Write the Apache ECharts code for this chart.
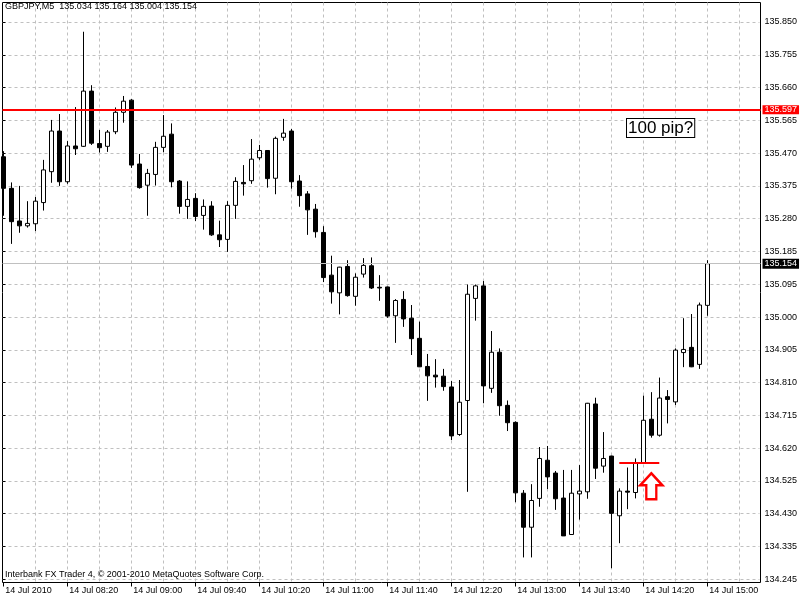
<!DOCTYPE html>
<html>
<head>
<meta charset="utf-8">
<script src="https://cdn.jsdelivr.net/npm/echarts@6/dist/echarts.min.js"></script>
<style>
  html, body { margin: 0; padding: 0; background: #fff; }
  #chart { width: 800px; height: 600px; }
</style>
</head>
<body>
<div id="chart"></div>
<script>
// GBPJPY M5, 14 Jul 2010 -- bars 07:40 .. 15:00, then empty slots (chart shift)
const times = [
  '07:40', '07:45', '07:50', '07:55',
  '08:00', '08:05', '08:10', '08:15', '08:20', '08:25', '08:30', '08:35', '08:40', '08:45', '08:50', '08:55',
  '09:00', '09:05', '09:10', '09:15', '09:20', '09:25', '09:30', '09:35', '09:40', '09:45', '09:50', '09:55',
  '10:00', '10:05', '10:10', '10:15', '10:20', '10:25', '10:30', '10:35', '10:40', '10:45', '10:50', '10:55',
  '11:00', '11:05', '11:10', '11:15', '11:20', '11:25', '11:30', '11:35', '11:40', '11:45', '11:50', '11:55',
  '12:00', '12:05', '12:10', '12:15', '12:20', '12:25', '12:30', '12:35', '12:40', '12:45', '12:50', '12:55',
  '13:00', '13:05', '13:10', '13:15', '13:20', '13:25', '13:30', '13:35', '13:40', '13:45', '13:50', '13:55',
  '14:00', '14:05', '14:10', '14:15', '14:20', '14:25', '14:30', '14:35', '14:40', '14:45', '14:50', '14:55',
  '15:00', '15:05', '15:10', '15:15', '15:20', '15:25', '15:30'
]

const opens = [
  135.462, 135.371, 135.277, 135.263, 135.269, 135.330, 135.419, 135.536, 135.390, 135.493,
  135.492, 135.651, 135.500, 135.492, 135.534, 135.590, 135.625, 135.441, 135.380, 135.411,
  135.489, 135.527, 135.392, 135.319, 135.342, 135.293, 135.320, 135.237, 135.224, 135.322,
  135.388, 135.393, 135.459, 135.480, 135.400, 135.518, 135.536, 135.392, 135.355, 135.311,
  135.244, 135.121, 135.070, 135.146, 135.060, 135.124, 135.148, 135.086, 135.087, 135.004,
  135.051, 134.997, 134.939, 134.858, 134.833, 134.830, 134.799, 134.662, 134.760, 135.054,
  135.090, 134.795, 134.899, 134.746, 134.697, 134.493, 134.395, 134.478, 134.588, 134.551,
  134.479, 134.374, 134.491, 134.497, 134.750, 134.571, 134.600, 134.428, 134.499, 134.495,
  134.581, 134.706, 134.660, 134.771, 134.756, 134.898, 134.913, 134.864, 135.034
]
const closes = [
  135.371, 135.275, 135.263, 135.270, 135.334, 135.424, 135.536, 135.390, 135.493, 135.485,
  135.651, 135.501, 135.488, 135.533, 135.590, 135.622, 135.438, 135.373, 135.414, 135.489,
  135.521, 135.390, 135.319, 135.339, 135.290, 135.319, 135.237, 135.223, 135.322, 135.391,
  135.384, 135.455, 135.480, 135.399, 135.515, 135.530, 135.390, 135.350, 135.309, 135.246,
  135.114, 135.073, 135.144, 135.062, 135.115, 135.149, 135.084, 135.084, 135.003, 135.048,
  134.995, 134.938, 134.857, 134.831, 134.828, 134.800, 134.658, 134.755, 135.066, 135.090,
  134.802, 134.899, 134.745, 134.696, 134.494, 134.395, 134.472, 134.593, 134.540, 134.477,
  134.370, 134.493, 134.499, 134.752, 134.565, 134.593, 134.435, 134.499, 134.496, 134.579,
  134.703, 134.660, 134.767, 134.763, 134.905, 134.907, 134.857, 135.035, 135.154
]
const lows = [
  135.292, 135.211, 135.243, 135.258, 135.248, 135.307, 135.387, 135.378, 135.384, 135.467,
  135.490, 135.496, 135.474, 135.476, 135.527, 135.560, 135.430, 135.370, 135.292, 135.379,
  135.475, 135.374, 135.298, 135.283, 135.277, 135.252, 135.234, 135.202, 135.188, 135.283,
  135.350, 135.384, 135.453, 135.373, 135.354, 135.508, 135.370, 135.318, 135.237, 135.229,
  135.101, 135.039, 135.008, 135.059, 135.033, 135.114, 135.081, 135.047, 134.998, 134.926,
  134.972, 134.891, 134.856, 134.759, 134.797, 134.788, 134.646, 134.658, 134.497, 134.990,
  134.752, 134.782, 134.716, 134.672, 134.467, 134.308, 134.308, 134.454, 134.505, 134.445,
  134.370, 134.373, 134.417, 134.477, 134.534, 134.552, 134.277, 134.349, 134.447, 134.478,
  134.580, 134.653, 134.656, 134.694, 134.747, 134.856, 134.856, 134.851, 135.004
]
const highs = [
  135.478, 135.388, 135.378, 135.334, 135.346, 135.453, 135.568, 135.585, 135.507, 135.605,
  135.822, 135.668, 135.539, 135.539, 135.604, 135.637, 135.628, 135.470, 135.427, 135.505,
  135.582, 135.558, 135.395, 135.391, 135.357, 135.339, 135.334, 135.278, 135.334, 135.403,
  135.438, 135.513, 135.496, 135.481, 135.520, 135.571, 135.542, 135.409, 135.363, 135.326,
  135.262, 135.177, 135.145, 135.164, 135.126, 135.170, 135.172, 135.121, 135.088, 135.052,
  135.075, 135.035, 134.987, 134.894, 134.879, 134.851, 134.816, 134.819, 135.094, 135.094,
  135.104, 134.960, 134.910, 134.760, 134.700, 134.502, 134.519, 134.626, 134.629, 134.557,
  134.560, 134.560, 134.574, 134.753, 134.768, 134.669, 134.601, 134.507, 134.567, 134.593,
  134.774, 134.784, 134.826, 134.790, 134.910, 134.997, 135.009, 135.042, 135.164
]

const priceTicks = [
  '134.245', '134.335', '134.430', '134.525', '134.620', '134.715', '134.810', '134.905', '135.000',
  '135.095', '135.185', '135.280', '135.375', '135.470', '135.565', '135.660', '135.755', '135.850'
]

const symbolName = 'GBPJPY,M5'
const dayLabel = '14 Jul'
const firstLabel = '14 Jul 2010'
const alertLevel = 135.597
const lastPrice = 135.154
const entryLevel = 134.581
const entryFrom = 77
const entryTo = 82
const arrowAt = 81
const arrowPrice = 134.513

const priceMin = 134.2358
const priceMax = 135.9062

const font = '"Liberation Sans", Arial, sans-serif'
const gridGray = '#c0c0c0'

let ch = echarts.init(document.getElementById('chart'), null, { renderer: 'canvas' })

let candles = opens.map((o, i) => [o, closes[i], lows[i], highs[i]])
let last = opens.length - 1
let header = symbolName + '  ' + [opens[last], highs[last], lows[last], closes[last]].map(v => v.toFixed(3)).join(' ')

let option = {
  animation: false,
  backgroundColor: '#fff',
  textStyle: { fontFamily: font },
  title: [
    {
      text: header, left: 5, top: 2, padding: 0,
      textStyle: { fontSize: 9, fontWeight: 'normal', color: '#000', fontFamily: font }
    },
    {
      text: 'Interbank FX Trader 4, \u00a9 2001-2010 MetaQuotes Software Corp.', left: 5, top: 570, padding: 0,
      textStyle: { fontSize: 9, fontWeight: 'normal', color: '#000', fontFamily: font }
    }
  ],
  graphic: [
    {
      type: 'text', left: 626, top: 118, z: 10,
      style: {
        text: '100 pip?', font: '17px ' + font, fill: '#000',
        backgroundColor: '#fff', borderColor: '#000', borderWidth: 1, padding: [1, 1, 0, 1]
      }
    }
  ],
  grid: [
    // candles
    { left: 3.3, right: 44.7, top: 2.5, bottom: 17.5 },
    // frame + horizontal levels
    { left: 2.5, right: 39.5, top: 2.5, bottom: 17.5, show: true, borderColor: '#000', borderWidth: 1, backgroundColor: 'transparent' },
    // price scale labels
    { left: 2.5, right: 39.5, top: 22, bottom: 20.7 }
  ],
  xAxis: [
    {
      type: 'category', gridIndex: 0, data: times, boundaryGap: false,
      axisLine: { show: false },
      axisTick: { show: true, interval: (i) => i % 8 === 0, length: 4, lineStyle: { color: '#000' } },
      axisLabel: {
        interval: (i) => i % 8 === 0, align: 'left', margin: 4, padding: [0, 0, 0, 2],
        color: '#000', fontSize: 9, fontFamily: font,
        formatter: (v, i) => i === 0 ? firstLabel : dayLabel + ' ' + v
      },
      splitLine: { show: true, interval: (i) => i % 4 === 0 && i > 0, lineStyle: { color: gridGray, type: [3, 3] } }
    },
    { type: 'value', gridIndex: 1, min: 0, max: 1, show: false },
    { type: 'value', gridIndex: 2, min: 0, max: 1, show: false }
  ],
  yAxis: [
    { type: 'value', gridIndex: 0, min: priceMin, max: priceMax, show: false },
    { type: 'value', gridIndex: 1, min: priceMin, max: priceMax, show: false },
    {
      type: 'category', gridIndex: 2, position: 'right', data: priceTicks, boundaryGap: false,
      axisLine: { show: false },
      axisTick: { show: true, length: 3, lineStyle: { color: '#000' } },
      axisLabel: { margin: 5, color: '#000', fontSize: 9, fontFamily: font },
      splitLine: { show: true, lineStyle: { color: gridGray, type: [3, 3] } }
    }
  ],
  series: [
    {
      type: 'candlestick', xAxisIndex: 0, yAxisIndex: 0,
      data: candles, barWidth: 5,
      itemStyle: { color: '#fff', color0: '#000', borderColor: '#000', borderColor0: '#000', borderWidth: 1 },
      emphasis: { disabled: true },
      markLine: {
        silent: true, symbol: 'none', label: { show: false }, precision: 3,
        lineStyle: { color: '#ff0000', width: 2, type: 'solid' },
        data: [[
          { coord: [times[entryFrom], entryLevel] },
          { coord: [times[entryTo], entryLevel] }
        ]]
      },
      markPoint: {
        silent: true,
        symbol: 'path://M11,0 L22,12 L16,12 L16,26 L6,26 L6,12 L0,12 Z',
        symbolSize: [22, 26],
        itemStyle: { color: '#fff', borderColor: '#ff0000', borderWidth: 2.5 },
        label: { show: false },
        data: [{ coord: [times[arrowAt], arrowPrice] }]
      }
    },
    {
      type: 'line', xAxisIndex: 1, yAxisIndex: 1, data: [], z: 5,
      markLine: {
        silent: true, symbol: 'none', animation: false, precision: 3,
        data: [
          {
            yAxis: lastPrice,
            lineStyle: { color: '#c0c0c0', width: 1, type: 'solid' },
            label: {
              position: 'end', distance: 2, formatter: () => lastPrice.toFixed(3),
              color: '#fff', backgroundColor: '#000', padding: [1, 2, 0, 2], fontSize: 9, fontFamily: font
            }
          },
          {
            yAxis: alertLevel,
            lineStyle: { color: '#ff0000', width: 2, type: 'solid' },
            label: {
              position: 'end', distance: 2, formatter: () => alertLevel.toFixed(3),
              color: '#fff', backgroundColor: '#ff0000', padding: [0, 2, 0, 2], fontSize: 9, fontFamily: font
            }
          }
        ]
      }
    }
  ]
}
ch.setOption(option)
</script>
</body>
</html>
